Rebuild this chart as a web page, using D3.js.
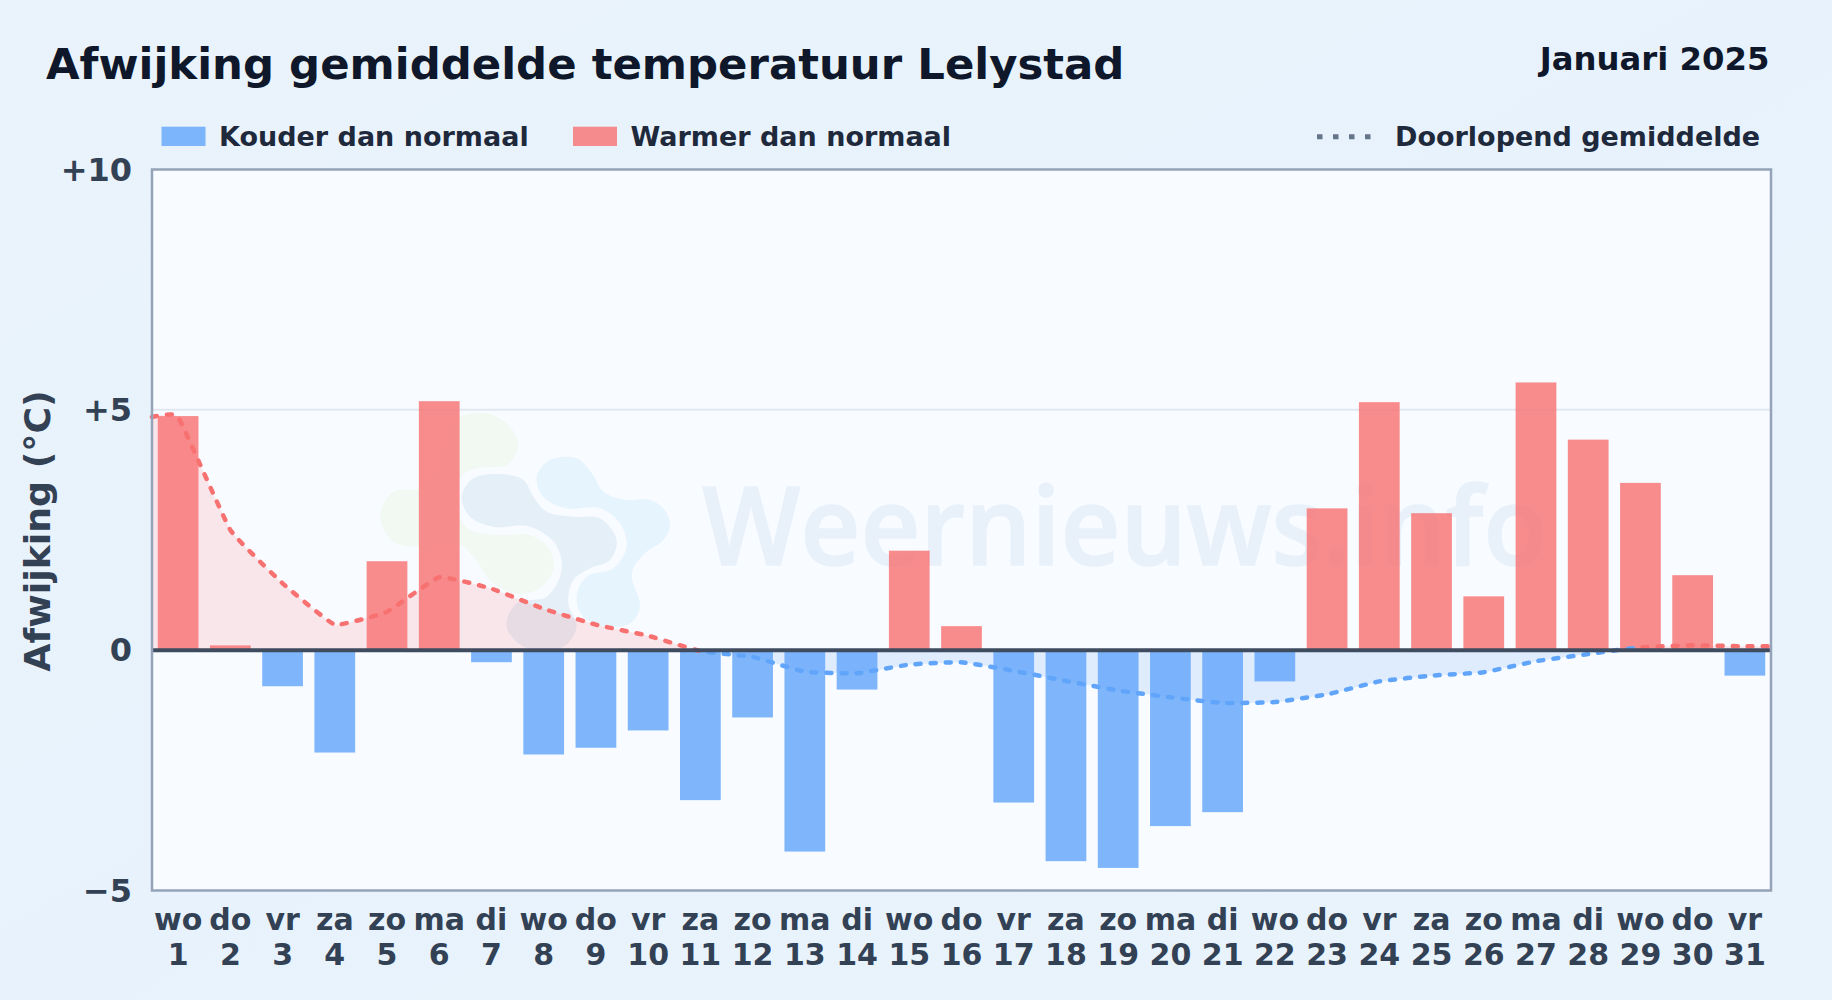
<!DOCTYPE html>
<html lang="nl">
<head>
  <meta charset="UTF-8">
  <title>Afwijking gemiddelde temperatuur Lelystad</title>
  <style>
    html, body { margin: 0; padding: 0; background: #e8f3fc; }
    svg { display: block; font-family: "DejaVu Sans", sans-serif; font-weight: 700; }
  </style>
</head>
<body>
  <svg width="1832" height="1000"></svg>

  <script src="https://d3js.org/d3.v7.min.js"></script>
  <script>
    // data
    const weekdays = ["wo","do","vr","za","zo","ma","di","wo","do","vr","za","zo","ma","di","wo","do","vr","za","zo","ma","di","wo","do","vr","za","zo","ma","di","wo","do","vr"];
    const days = d3.range(1, 32);
    const deviation = [4.87,0.1,-0.75,-2.13,1.85,5.18,-0.25,-2.17,-2.03,-1.67,-3.12,-1.4,-4.19,-0.82,2.07,0.5,-3.17,-4.39,-4.53,-3.66,-3.37,-0.65,2.95,5.16,2.85,1.12,5.57,4.38,3.48,1.56,-0.53];
    const runningMean = [4.85,2.5,1.39,0.53,0.8,1.52,1.28,0.86,0.53,0.3,-0.02,-0.14,-0.45,-0.48,-0.3,-0.25,-0.43,-0.64,-0.84,-0.98,-1.1,-1.08,-0.92,-0.65,-0.53,-0.46,-0.23,-0.08,0.06,0.1,0.08];
    const yTicks = [-5, 0, 5, 10];
    const gridTicks = [5];

    // the running mean line runs on to both plot edges
    const lineDays = [0.5, ...days, 31.5];
    const lineValues = [runningMean[0], ...runningMean, runningMean[30]];

    const margin = { left: 152, right: 61, top: 169.5, bottom: 109.5 };
    const width = 1832, height = 1000;
    const svg = d3.select("svg");
    const defs = svg.append("defs");

    const bg = defs.append("linearGradient").attr("id", "pageBg")
      .attr("x1", 0).attr("y1", 0).attr("x2", 1).attr("y2", 1);
    bg.append("stop").attr("offset", "0%").attr("stop-color", "#eaf3fb");
    bg.append("stop").attr("offset", "50%").attr("stop-color", "#e7f2fc");
    bg.append("stop").attr("offset", "100%").attr("stop-color", "#e9f3fb");
    svg.append("rect").attr("width", width).attr("height", height).attr("fill", "url(#pageBg)");

    const x = d3.scaleBand()
      .domain(days)
      .range([margin.left, width - margin.right])
      .paddingInner(0.22)
      .paddingOuter(0.11);
    const xDay = d3.scaleLinear()
      .domain([0.5, 31.5])
      .range([margin.left, width - margin.right]);
    const y = d3.scaleLinear()
      .domain([-5, 10])
      .range([height - margin.bottom, margin.top]);

    const plotW = width - margin.left - margin.right;
    const plotH = height - margin.top - margin.bottom;

    svg.append("rect")
      .attr("x", margin.left).attr("y", margin.top)
      .attr("width", plotW).attr("height", plotH)
      .attr("fill", "#f8fbff");

    // watermark logo, outlines
    const logoGreen = [[300,50],[380,40],[450,80],[475,140],[440,195],[350,205],[300,235],[300,350],[330,390],[420,405],[510,405],[570,450],[580,510],[530,570],[460,580],[390,540],[340,470],[290,430],[180,440],[100,425],[60,350],[100,275],[180,265],[240,220],[270,90]];
    const logoDark = [[305,290],[340,235],[420,222],[490,240],[520,290],[560,335],[640,350],[720,355],[770,420],[750,480],[690,505],[640,540],[625,610],[650,680],[610,740],[500,745],[440,680],[470,610],[560,590],[605,510],[585,430],[510,380],[400,380],[330,350]];
    const logoLight = [[530,230],[570,180],[650,175],[695,220],[730,275],[800,300],[860,298],[910,325],[930,380],[905,425],[860,455],[825,495],[815,530],[840,620],[810,670],[740,680],[670,650],[650,590],[680,530],[760,505],[800,440],[780,370],[720,325],[620,325],[550,290]];

    const blob = d3.line().curve(d3.curveCatmullRomClosed.alpha(0.5));
    const logo = svg.append("g").attr("transform", "translate(360,400) scale(0.3333)");
    logo.append("path").attr("d", blob(logoGreen)).attr("fill", "#f1f9f2");
    logo.append("path").attr("d", blob(logoLight)).attr("fill", "#e6f4fd");
    logo.append("path").attr("d", blob(logoDark)).attr("fill", "#e5eff8");

    svg.append("text")
      .attr("x", 702).attr("y", 565)
      .attr("font-family", "'Open Sans', sans-serif")
      .attr("font-weight", 600)
      .attr("font-size", 108)
      .attr("fill", "#e8f1fa")
      .attr("stroke", "#e8f1fa")
      .attr("stroke-width", 1.5)
      .attr("textLength", 845)
      .attr("lengthAdjust", "spacingAndGlyphs")
      .text("Weernieuws.info");

    // grid
    svg.append("g").selectAll("line")
      .data(gridTicks)
      .join("line")
      .attr("x1", margin.left).attr("x2", width - margin.right)
      .attr("y1", d => y(d)).attr("y2", d => y(d))
      .attr("stroke", "#e2e8f0").attr("stroke-width", 2);

    // area between running mean and zero, split at the zero line
    defs.append("clipPath").attr("id", "aboveZero").append("rect")
      .attr("x", margin.left).attr("y", margin.top)
      .attr("width", plotW).attr("height", y(0) - margin.top);
    defs.append("clipPath").attr("id", "belowZero").append("rect")
      .attr("x", margin.left).attr("y", y(0))
      .attr("width", plotW).attr("height", y.range()[0] - y(0));

    const lineCurve = d3.curveCardinal.tension(0.7);

    const area = d3.area()
      .x((d, i) => xDay(lineDays[i]))
      .y0(y(0))
      .y1(d => y(d))
      .curve(lineCurve);

    svg.append("path").attr("d", area(lineValues))
      .attr("clip-path", "url(#aboveZero)")
      .attr("fill", "#f87171").attr("fill-opacity", 0.15);
    svg.append("path").attr("d", area(lineValues))
      .attr("clip-path", "url(#belowZero)")
      .attr("fill", "#60a5fa").attr("fill-opacity", 0.17);

    // bars
    svg.append("g").selectAll("rect")
      .data(deviation)
      .join("rect")
      .attr("x", (d, i) => x(days[i]))
      .attr("width", x.bandwidth())
      .attr("y", d => y(Math.max(d, 0)))
      .attr("height", d => Math.abs(y(d) - y(0)))
      .attr("fill", d => d >= 0 ? "#f87171" : "#60a5fa")
      .attr("fill-opacity", 0.8);

    // running mean line, colour flips where the mean crosses zero
    const lineGrad = defs.append("linearGradient").attr("id", "lineColor")
      .attr("gradientUnits", "userSpaceOnUse")
      .attr("x1", margin.left).attr("x2", width - margin.right)
      .attr("y1", 0).attr("y2", 0);
    const off = d => (xDay(d) - margin.left) / plotW;
    [[0, "#f87171"], [off(11), "#f87171"], [off(11), "#60a5fa"], [off(29), "#60a5fa"], [off(29), "#f87171"], [1, "#f87171"]]
      .forEach(s => lineGrad.append("stop").attr("offset", s[0]).attr("stop-color", s[1]));

    const line = d3.line()
      .x((d, i) => xDay(lineDays[i]))
      .y(d => y(d))
      .curve(lineCurve);

    svg.append("path").attr("d", line(lineValues))
      .attr("fill", "none")
      .attr("stroke", "url(#lineColor)")
      .attr("stroke-width", 4.5)
      .attr("stroke-dasharray", "5 10")
      .attr("stroke-linecap", "round");

    // zero line
    svg.append("line")
      .attr("x1", margin.left).attr("x2", width - margin.right)
      .attr("y1", y(0)).attr("y2", y(0))
      .attr("stroke", "#3f4b5f").attr("stroke-width", 4);

    // plot border
    svg.append("rect")
      .attr("x", margin.left).attr("y", margin.top)
      .attr("width", plotW).attr("height", plotH)
      .attr("fill", "none")
      .attr("stroke", "#94a3b8").attr("stroke-width", 2.5);

    // axes
    const yAxis = svg.append("g")
      .attr("transform", `translate(${margin.left},0)`)
      .call(d3.axisLeft(y)
        .tickValues(yTicks)
        .tickSize(0)
        .tickPadding(20)
        .tickFormat(d => d > 0 ? "+" + d : d < 0 ? "\u2212" + Math.abs(d) : "0"));
    yAxis.select(".domain").remove();
    yAxis.selectAll("text")
      .attr("font-family", "'DejaVu Sans', sans-serif")
      .attr("font-size", 32)
      .attr("font-weight", 700)
      .attr("dy", "0.33em")
      .attr("fill", "#334155");

    const xAxis = svg.append("g")
      .attr("transform", `translate(0,${height - margin.bottom})`)
      .call(d3.axisBottom(x).tickSize(0).tickFormat(""));
    xAxis.select(".domain").remove();
    xAxis.selectAll("text")
      .attr("font-family", "'DejaVu Sans', sans-serif")
      .attr("font-size", 30)
      .attr("font-weight", 700)
      .attr("fill", "#334155")
      .attr("y", 0).attr("dy", 0)
      .each(function(d, i) {
        const t = d3.select(this);
        t.append("tspan").attr("x", 0).attr("y", 39.5).text(weekdays[i]);
        t.append("tspan").attr("x", 0).attr("y", 74).text(d);
      });

    svg.append("text")
      .attr("transform", `translate(50,${(margin.top + height - margin.bottom) / 2 + 1}) rotate(-90)`)
      .attr("text-anchor", "middle")
      .attr("font-size", 36.3)
      .attr("fill", "#334155")
      .text("Afwijking (°C)");

    // titles
    svg.append("text").attr("x", 46).attr("y", 78.5)
      .attr("font-size", 43.4).attr("fill", "#0f172a")
      .text("Afwijking gemiddelde temperatuur Lelystad");
    svg.append("text").attr("x", 1769.5).attr("y", 69.5)
      .attr("text-anchor", "end")
      .attr("font-size", 32.3).attr("fill", "#0f172a")
      .text("Januari 2025");

    // legend
    const legendItems = [
      { label: "Kouder dan normaal", color: "#60a5fa", x: 161.5 },
      { label: "Warmer dan normaal", color: "#f87171", x: 573 }
    ];
    const legend = svg.append("g");
    legend.selectAll("rect")
      .data(legendItems)
      .join("rect")
      .attr("x", d => d.x).attr("y", 126.7)
      .attr("width", 44).attr("height", 19.3)
      .attr("fill", d => d.color).attr("fill-opacity", 0.8);
    legend.selectAll("text")
      .data(legendItems)
      .join("text")
      .attr("x", d => d.x + 57.5).attr("y", 145.7)
      .attr("font-size", 27).attr("fill", "#1e293b")
      .text(d => d.label);

    legend.append("line")
      .attr("x1", 1317).attr("x2", 1375)
      .attr("y1", 136.7).attr("y2", 136.7)
      .attr("stroke", "#64748b").attr("stroke-width", 5)
      .attr("stroke-dasharray", "5.5 10.5");
    legend.append("text")
      .attr("x", 1395).attr("y", 145.7)
      .attr("font-size", 27).attr("fill", "#1e293b")
      .text("Doorlopend gemiddelde");
  </script>
</body>
</html>
